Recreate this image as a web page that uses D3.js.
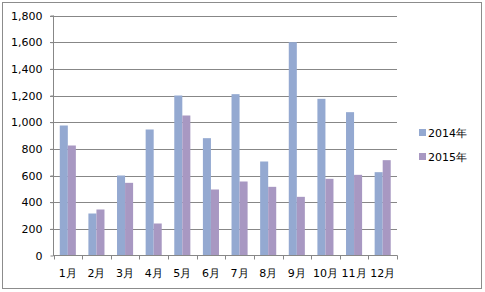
<!DOCTYPE html>
<html><head><meta charset="utf-8">
<script src="https://cdn.jsdelivr.net/npm/d3@7"></script>
<style>body{margin:0;background:#fff}svg{display:block}</style>
</head><body>
<script>
const months = ["1月","2月","3月","4月","5月","6月","7月","8月","9月","10月","11月","12月"];
const seriesNames = ["2014年","2015年"];
const v2014 = [975,315,600,945,1200,880,1210,705,1600,1175,1075,625];
const v2015 = [825,345,545,240,1050,495,555,515,440,575,605,715];
const yTicks = [0,200,400,600,800,1000,1200,1400,1600,1800];
const colors = ["#94A9D1","#A898C2"];

const W=485,H=292;
const svg=d3.select("body").append("svg").attr("width",W).attr("height",H);
svg.append("rect").attr("x",2.5).attr("y",2.5).attr("width",479).attr("height",286)
  .attr("fill","#fff").attr("stroke","#8c8c8c").attr("stroke-width",1);

const x0=d3.scaleBand().domain(months).range([53.5,397]).paddingInner(0).paddingOuter(0);
const x1=d3.scaleBand().domain(seriesNames).range([0,x0.bandwidth()]).paddingInner(0).paddingOuter(0.78);
const y=d3.scaleLinear().domain([0,1800]).range([255.5,15.5]);

const font="'DejaVu Sans', Verdana, sans-serif";
// gridlines
svg.append("g").selectAll("line").data(yTicks.slice(1)).join("line")
  .attr("x1",50).attr("x2",397).attr("y1",d=>Math.round(y(d))+0.5).attr("y2",d=>Math.round(y(d))+0.5)
  .attr("stroke","#878787").attr("stroke-width",1);

// bars
const data=months.map((m,i)=>({m,vals:[v2014[i],v2015[i]]}));
const g=svg.append("g");
data.forEach(d=>{
  d.vals.forEach((v,j)=>{
    g.append("rect").attr("x",x0(d.m)+x1(seriesNames[j])).attr("width",x1.bandwidth())
      .attr("y",y(v)).attr("height",y(0)-y(v)).attr("fill",colors[j]);
  });
});

// y axis
const yAxis=d3.axisLeft(y).tickValues(yTicks).tickSize(3).tickFormat(d3.format(","));
const ya=svg.append("g").attr("transform","translate(53.5,0)").call(yAxis);
ya.select(".domain").attr("stroke","#878787").attr("d","M0,15.5V255.5");
ya.selectAll(".tick line").attr("stroke","#878787");
ya.selectAll("text").attr("font-family",font).attr("font-size","11px").attr("fill","#000").attr("x",-11);

// x axis
const xa=svg.append("g").attr("transform","translate(0,255.5)");
xa.append("line").attr("x1",53).attr("x2",397.5).attr("stroke","#878787");
xa.selectAll(".tk").data(months.concat(["end"])).join("line")
  .attr("x1",(d,i)=>Math.round(i<12?x0(d):397)+0.5).attr("x2",(d,i)=>Math.round(i<12?x0(d):397)+0.5)
  .attr("y1",0).attr("y2",4).attr("stroke","#878787");
xa.selectAll("text").data(months).join("text")
  .attr("x",d=>x0(d)+x0.bandwidth()/2).attr("y",21).attr("text-anchor","middle")
  .attr("font-family",font).attr("font-size","11px").attr("fill","#000").text(d=>d);

// legend
const lg=svg.append("g");
seriesNames.forEach((s,j)=>{
  lg.append("rect").attr("x",419).attr("y",129+j*24).attr("width",7).attr("height",7).attr("fill",colors[j]);
  lg.append("text").attr("x",428).attr("y",137+j*24).attr("font-family",font).attr("font-size","11px").attr("fill","#000").text(s);
});
</script>
</body></html>
